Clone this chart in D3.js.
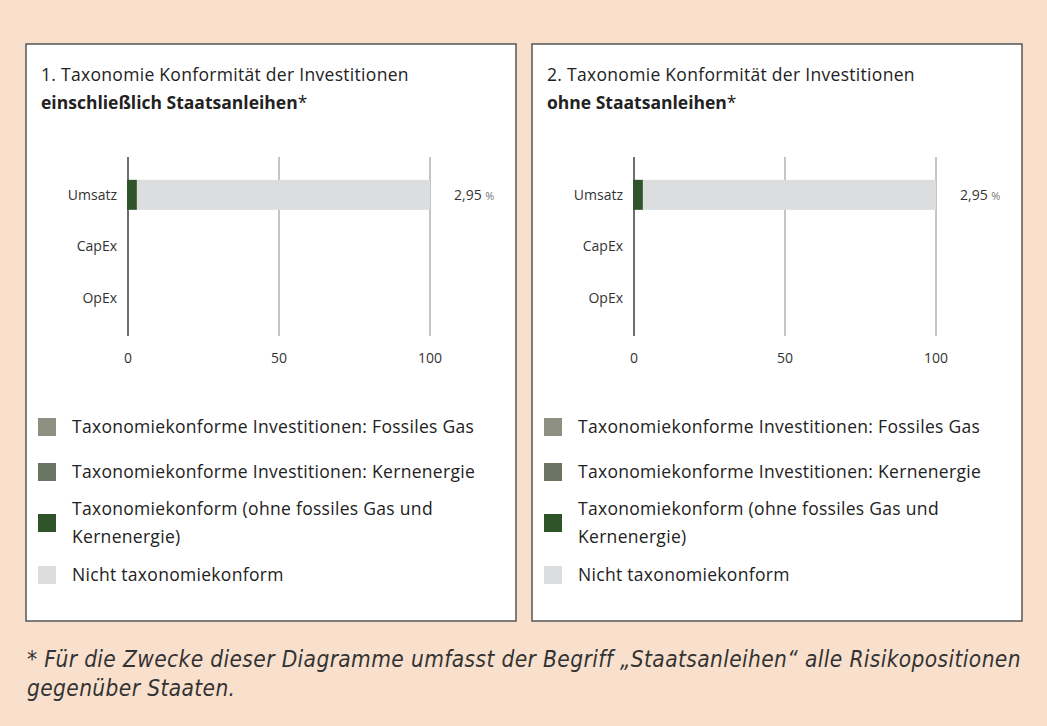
<!DOCTYPE html>
<html>
<head>
<meta charset="utf-8">
<script src="https://cdn.jsdelivr.net/npm/d3@7"></script>
<style>
  html, body { margin: 0; padding: 0; background: #f8e0cd; }
  svg { display: block; }
</style>
</head>
<body>
<svg id="chart" width="1047" height="726"></svg>
<script>
// data
const categories = ['Umsatz', 'CapEx', 'OpEx'];
const xTicks = [0, 50, 100];

const panelTitles = ['1. Taxonomie Konformität der Investitionen', '2. Taxonomie Konformität der Investitionen'];
const panelSubtitles = ['einschließlich Staatsanleihen', 'ohne Staatsanleihen'];

// Anteile je Kategorie (null = keine Daten)
const gasValues1 = [0, null, null];
const nuclearValues1 = [0, null, null];
const alignedValues1 = [2.95, null, null];
const notAlignedValues1 = [97.05, null, null];
const valueLabels1 = ['2,95', '', ''];

const gasValues2 = [0, null, null];
const nuclearValues2 = [0, null, null];
const alignedValues2 = [2.95, null, null];
const notAlignedValues2 = [97.05, null, null];
const valueLabels2 = ['2,95', '', ''];

const legendLabels = [
	['Taxonomiekonforme Investitionen: Fossiles Gas'],
	['Taxonomiekonforme Investitionen: Kernenergie'],
	['Taxonomiekonform (ohne fossiles Gas und', 'Kernenergie)'],
	['Nicht taxonomiekonform']
];
const legendColors = ['#8d9081', '#6b7563', '#2f5429', '#dcdddf'];

const footnoteLines = [
	'* Für die Zwecke dieser Diagramme umfasst der Begriff „Staatsanleihen“ alle Risikopositionen',
	'gegenüber Staaten.'
];

const panels = [
	{ title: panelTitles[0], subtitle: panelSubtitles[0], series: [gasValues1, nuclearValues1, alignedValues1, notAlignedValues1], labels: valueLabels1 },
	{ title: panelTitles[1], subtitle: panelSubtitles[1], series: [gasValues2, nuclearValues2, alignedValues2, notAlignedValues2], labels: valueLabels2 }
];

const font = '"Open Sans", "Noto Sans", sans-serif';
const svg = d3.select('#chart');

const panelW = 490;
const panelH = 577;
const panelX = [26, 532];
const panelY = 44;

const x = d3.scaleLinear().domain([0, 100]).range([102, 404]);
const y = d3.scalePoint().domain(categories).range([125, 280]).padding(0.5);
const barH = 30;

panels.forEach((p, pi) => {
	const g = svg.append('g').attr('transform', `translate(${panelX[pi]}, ${panelY})`);

	g.append('rect')
		.attr('width', panelW)
		.attr('height', panelH)
		.attr('fill', '#fff')
		.attr('stroke', '#555')
		.attr('stroke-width', 1.5);

	g.append('text')
		.attr('x', 15)
		.attr('y', 37)
		.attr('font-family', font)
		.attr('font-size', 17.5)
		.attr('letter-spacing', 0.3)
		.attr('fill', '#222')
		.text(p.title);

	const sub = g.append('text')
		.attr('x', 15)
		.attr('y', 65)
		.attr('font-family', font)
		.attr('font-size', 17.5)
		.attr('fill', '#222');
	sub.append('tspan').attr('font-weight', 'bold').text(p.subtitle);
	sub.append('tspan').text('*');

	// gridlines
	g.append('g')
		.selectAll('line')
		.data(xTicks)
		.join('line')
		.attr('x1', d => x(d))
		.attr('x2', d => x(d))
		.attr('y1', 113)
		.attr('y2', 292)
		.attr('stroke', d => (d === 0 ? '#6e6e6e' : '#8a8a8a'))
		.attr('stroke-width', d => (d === 0 ? 2 : 1));

	// stacked bars
	const rows = categories.map((c, i) => {
		let acc = 0;
		return p.series.map((s, si) => {
			const v = s[i];
			if (v === null || v === 0) return null;
			const seg = { cat: c, x0: acc, x1: acc + v, color: legendColors[si] };
			acc += v;
			return seg;
		}).filter(d => d);
	}).flat();

	g.append('g')
		.selectAll('rect')
		.data(rows)
		.join('rect')
		.attr('x', d => x(d.x0) - (d.x0 === 0 ? 1 : 0))
		.attr('y', d => y(d.cat) - barH / 2)
		.attr('width', d => x(d.x1) - x(d.x0) + (d.x0 === 0 ? 1 : 0))
		.attr('height', barH)
		.attr('fill', d => d.color);

	// category labels
	g.append('g')
		.selectAll('text')
		.data(categories)
		.join('text')
		.attr('x', 91)
		.attr('y', d => y(d))
		.attr('dy', '0.35em')
		.attr('text-anchor', 'end')
		.attr('font-family', font)
		.attr('font-size', 14)
		.attr('fill', '#333')
		.text(d => d);

	// value labels
	const vl = g.append('g')
		.selectAll('text')
		.data(categories.map((c, i) => ({ cat: c, label: p.labels[i] })).filter(d => d.label))
		.join('text')
		.attr('x', 428)
		.attr('y', d => y(d.cat))
		.attr('dy', '0.35em')
		.attr('font-family', font)
		.attr('font-size', 14)
		.attr('fill', '#333');
	vl.append('tspan').text(d => d.label + ' ');
	vl.append('tspan').attr('font-size', 11).attr('fill', '#777').text('%');

	// x tick labels
	g.append('g')
		.selectAll('text')
		.data(xTicks)
		.join('text')
		.attr('x', d => x(d))
		.attr('y', 314)
		.attr('dy', '0.35em')
		.attr('text-anchor', 'middle')
		.attr('font-family', font)
		.attr('font-size', 14)
		.attr('fill', '#333')
		.text(d => d);

	// legend
	const legendY = [383, 428, 479, 531];
	const lg = g.append('g')
		.selectAll('g')
		.data(legendLabels)
		.join('g')
		.attr('transform', (d, i) => `translate(12, ${legendY[i]})`);

	lg.append('rect')
		.attr('y', -9)
		.attr('width', 18)
		.attr('height', 18)
		.attr('fill', (d, i) => legendColors[i]);

	lg.append('text')
		.attr('font-family', font)
		.attr('font-size', 17.5)
		.attr('letter-spacing', 0.3)
		.attr('fill', '#222')
		.selectAll('tspan')
		.data(d => d.map((t, k) => ({ t, k, n: d.length })))
		.join('tspan')
		.attr('x', 34)
		.attr('y', d => (d.k - (d.n - 1) / 2) * 28)
		.attr('dy', '0.35em')
		.text(d => d.t);
});

// footnote
svg.append('g')
	.selectAll('text')
	.data(footnoteLines)
	.join('text')
	.attr('x', 27)
	.attr('y', (d, i) => 667 + i * 29)
	.attr('font-family', '"DejaVu Sans Condensed", sans-serif')
	.attr('font-style', 'italic')
	.attr('font-size', 22.5)
	.attr('letter-spacing', 0.38)
	.attr('fill', '#333')
	.text(d => d);
</script>
</body>
</html>
